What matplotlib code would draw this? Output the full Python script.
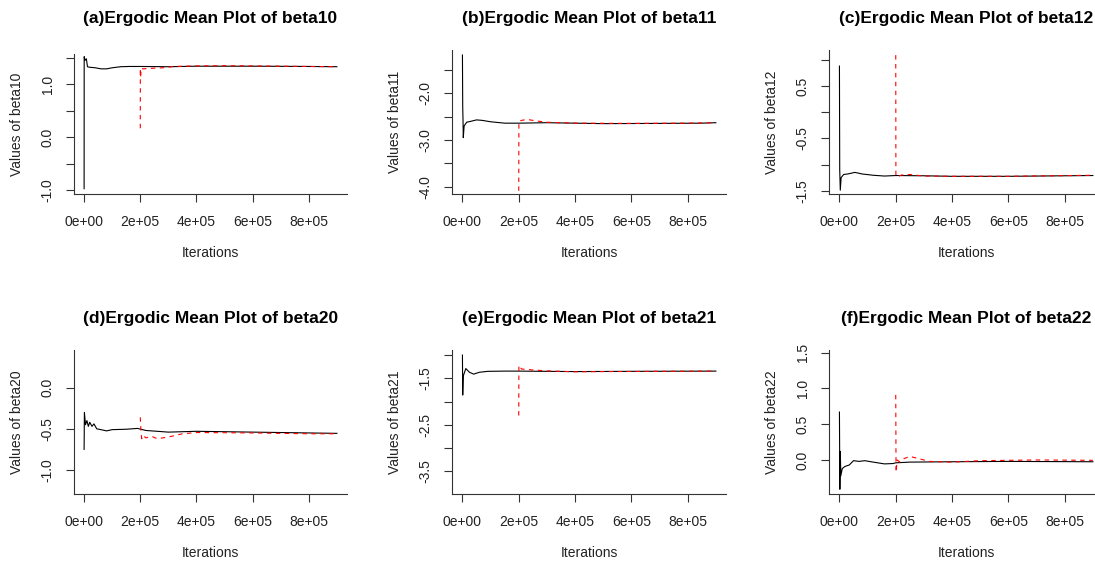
import numpy as np
import matplotlib
matplotlib.use("Agg")
import matplotlib.pyplot as plt

plt.rcParams['font.family'] = ['Liberation Sans', 'DejaVu Sans']

W, H = 1095, 565

# ---- data: (iteration, ergodic mean) ----
names = ["beta10", "beta11", "beta12", "beta20", "beta21", "beta22"]
letters = ["a", "b", "c", "d", "e", "f"]

# full chain (black)
a_x = [0, 300, 3000, 8000, 12000, 20000, 40000, 60000, 80000, 100000, 130000, 160000, 200000, 300000, 400000, 600000, 800000, 900000]
a_y = [-0.97, 1.52, 1.45, 1.48, 1.33, 1.32, 1.31, 1.29, 1.29, 1.31, 1.33, 1.335, 1.335, 1.33, 1.34, 1.34, 1.335, 1.33]
b_x = [0, 1000, 2000, 3000, 6000, 15000, 30000, 50000, 70000, 100000, 150000, 200000, 300000, 500000, 700000, 850000, 900000]
b_y = [-1.18, -2.3, -2.55, -2.95, -2.70, -2.62, -2.60, -2.57, -2.58, -2.61, -2.64, -2.64, -2.63, -2.65, -2.645, -2.64, -2.63]
c_x = [0, 1000, 3000, 6000, 15000, 30000, 55000, 80000, 120000, 160000, 200000, 300000, 400000, 600000, 900000]
c_y = [0.88, -1.1, -1.49, -1.25, -1.19, -1.18, -1.15, -1.18, -1.205, -1.22, -1.21, -1.215, -1.225, -1.225, -1.21]
d_x = [0, 1000, 5000, 10000, 15000, 20000, 28000, 35000, 45000, 60000, 80000, 100000, 150000, 190000, 220000, 300000, 400000, 600000, 800000, 900000]
d_y = [-0.75, -0.30, -0.45, -0.40, -0.47, -0.42, -0.47, -0.44, -0.50, -0.51, -0.525, -0.51, -0.505, -0.495, -0.52, -0.54, -0.53, -0.54, -0.55, -0.555]
e_x = [0, 1000, 3000, 12000, 25000, 40000, 60000, 90000, 150000, 200000, 300000, 400000, 600000, 900000]
e_y = [-1.0, -1.86, -1.45, -1.29, -1.37, -1.41, -1.37, -1.35, -1.345, -1.345, -1.35, -1.355, -1.35, -1.345]
f_x = [0, 1500, 3000, 5000, 10000, 20000, 35000, 50000, 70000, 90000, 120000, 160000, 190000, 200000, 250000, 400000, 600000, 900000]
f_y = [0.67, -0.41, 0.12, -0.22, -0.12, -0.09, -0.07, -0.01, -0.02, -0.01, -0.03, -0.055, -0.05, -0.04, -0.03, -0.025, -0.02, -0.025]

# chain after burn-in (red dashed)
ar_x = [200000, 200300, 201000, 203000, 210000, 240000, 280000, 320000, 400000, 500000, 600000, 700000, 800000, 900000]
ar_y = [0.17, 1.30, 1.12, 1.30, 1.29, 1.30, 1.31, 1.335, 1.345, 1.35, 1.345, 1.34, 1.335, 1.33]
br_x = [200000, 200500, 210000, 230000, 260000, 300000, 400000, 600000, 800000, 900000]
br_y = [-4.09, -2.60, -2.58, -2.56, -2.59, -2.62, -2.64, -2.645, -2.64, -2.63]
cr_x = [200000, 200500, 205000, 220000, 250000, 300000, 400000, 600000, 900000]
cr_y = [1.09, -1.2, -1.24, -1.20, -1.19, -1.22, -1.225, -1.225, -1.205]
dr_x = [200000, 202000, 205000, 210000, 220000, 240000, 260000, 300000, 350000, 400000, 600000, 800000, 900000]
dr_y = [-0.36, -0.50, -0.62, -0.58, -0.61, -0.59, -0.62, -0.60, -0.56, -0.545, -0.55, -0.56, -0.56]
er_x = [200000, 200500, 210000, 250000, 300000, 400000, 500000, 700000, 900000]
er_y = [-2.30, -1.22, -1.30, -1.32, -1.34, -1.36, -1.355, -1.35, -1.345]
fr_x = [200000, 201000, 205000, 215000, 230000, 250000, 280000, 320000, 400000, 500000, 700000, 900000]
fr_y = [0.91, -0.17, 0.0, -0.03, 0.02, 0.05, 0.02, -0.02, -0.03, -0.01, 0.0, -0.005]

black = [(a_x, a_y), (b_x, b_y), (c_x, c_y), (d_x, d_y), (e_x, e_y), (f_x, f_y)]
red = [(ar_x, ar_y), (br_x, br_y), (cr_x, cr_y), (dr_x, dr_y), (er_x, er_y), (fr_x, fr_y)]

ylims = [(-1.07, 1.57), (-4.157, -1.073), (-1.563, 1.188),
         (-1.292, 0.458), (-3.988, -0.891), (-0.476, 1.538)]
yticks = [[-1.0, -0.5, 0.0, 0.5, 1.0, 1.5],
          [-4.0, -3.5, -3.0, -2.5, -2.0, -1.5],
          [-1.5, -1.0, -0.5, 0.0, 0.5, 1.0],
          [-1.0, -0.5, 0.0],
          [-3.5, -3.0, -2.5, -2.0, -1.5, -1.0],
          [0.0, 0.5, 1.0, 1.5]]
ylabels = [["-1.0", "", "0.0", "", "1.0", ""],
           ["-4.0", "", "-3.0", "", "-2.0", ""],
           ["-1.5", "", "-0.5", "", "0.5", ""],
           ["-1.0", "-0.5", "0.0"],
           ["-3.5", "", "-2.5", "", "-1.5", ""],
           ["0.0", "0.5", "1.0", "1.5"]]
xticks = [0, 200000, 400000, 600000, 800000]
xlabels = ["0e+00", "2e+05", "4e+05", "6e+05", "8e+05"]

# plot regions in pixels: left, right, top, bottom
boxes = [(74, 347, 54, 194), (452.3, 726, 50, 194), (829.3, 1103, 50, 194),
         (74, 347, 350, 494), (452.3, 726, 350, 494), (829.3, 1103, 350, 494)]
title_y = [18, 18, 18, 318, 318, 318]

fig = plt.figure(figsize=(W / 100, H / 100), dpi=100)

for i in range(6):
    l, r, t, b = boxes[i]
    ax = fig.add_axes([l / W, 1 - b / H, (r - l) / W, (b - t) / H])
    ax.plot(black[i][0], black[i][1], color='black', lw=0.8)
    ax.plot(red[i][0], red[i][1], color='red', lw=0.8, ls=(0, (4, 4)))
    ax.set_xlim(-36000, 936000)
    ax.set_ylim(*ylims[i])
    ax.spines['top'].set_visible(False)
    ax.spines['right'].set_visible(False)
    for s in ['left', 'bottom']:
        ax.spines[s].set_linewidth(0.8)
        ax.spines[s].set_color('#333333')
    ax.set_xticks(xticks)
    ax.set_xticklabels(xlabels)
    ax.set_yticks(yticks[i])
    ax.set_yticklabels(ylabels[i], rotation=90, va='center')
    ax.tick_params(axis='both', direction='out', length=6, width=0.8,
                   color='#333333', labelsize=10, labelcolor='#222222')
    ax.tick_params(axis='x', pad=9)
    ax.tick_params(axis='y', pad=8)

    cx = (l + r) / 2
    fig.text(cx / W, 1 - title_y[i] / H, "(%s)Ergodic Mean Plot of %s" % (letters[i], names[i]),
             ha='center', va='center', fontsize=12.5, fontweight='bold')
    fig.text(cx / W, 1 - (b + 59) / H, "Iterations", ha='center', va='center',
             fontsize=10, color='#222222')
    fig.text((l - 57) / W, 1 - ((t + b) / 2) / H, "Values of " + names[i],
             ha='center', va='center', rotation=90, fontsize=10, color='#222222')

fig.savefig("out.png", dpi=100)
